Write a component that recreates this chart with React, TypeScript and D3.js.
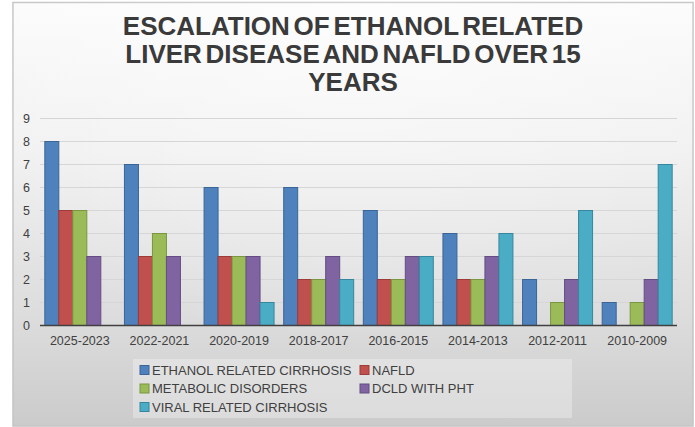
import React from "react";
import * as d3 from "d3";

const categories = ["2025-2023", "2022-2021", "2020-2019", "2018-2017", "2016-2015", "2014-2013", "2012-2011", "2010-2009"];
const seriesNames = ["ETHANOL RELATED CIRRHOSIS", "NAFLD", "METABOLIC DISORDERS", "DCLD WITH PHT", "VIRAL RELATED CIRRHOSIS"];
const ethanol = [8, 7, 6, 6, 5, 4, 2, 1];
const nafld = [5, 3, 3, 2, 2, 2, 0, 0];
const metabolic = [5, 4, 3, 2, 2, 2, 1, 1];
const dcld = [3, 3, 3, 3, 3, 3, 2, 2];
const viral = [0, 0, 1, 2, 3, 4, 5, 7];
const yTicks = [0, 1, 2, 3, 4, 5, 6, 7, 8, 9];
const titleLines = ["ESCALATION OF ETHANOL RELATED", "LIVER DISEASE AND NAFLD OVER 15", "YEARS"];

const fills = ["#4F81BD", "#C0504D", "#9BBB59", "#8064A2", "#4BACC6"];
const strokes = ["#3A6597", "#9C3B39", "#7A9640", "#634D82", "#35879D"];

export default function App() {
  const W = 695, H = 427;
  const left = 40, right = 677, top = 118.5, bottom = 325.5;
  const series = [ethanol, nafld, metabolic, dcld, viral];
  const x = d3.scaleBand<string>().domain(categories).range([left, right]).paddingInner(0.121).paddingOuter(0.0605);
  const x1 = d3.scaleBand<number>().domain(d3.range(series.length)).range([0, x.bandwidth()]);
  const y = d3.scaleLinear().domain([0, 9]).range([bottom, top]);
  const font = "Arial, 'Liberation Sans', sans-serif";
  const textCol = "#404040";

  const legendItems = [
    { i: 0, lx: 140, ly: 370 },
    { i: 1, lx: 360, ly: 370 },
    { i: 2, lx: 140, ly: 388.5 },
    { i: 3, lx: 360, ly: 388.5 },
    { i: 4, lx: 140, ly: 407 },
  ];

  return (
    <svg width={W} height={H} style={{ position: "absolute", left: 0, top: 0 }}>
      <defs>
        <linearGradient id="bg" x1="0" y1="0" x2="0" y2="1">
          <stop offset="0%" stopColor="#fbfbfb" />
          <stop offset="35%" stopColor="#f0f0f0" />
          <stop offset="75%" stopColor="#dcdcdc" />
          <stop offset="100%" stopColor="#cbcbcb" />
        </linearGradient>
        <radialGradient id="hl" cx="0.5" cy="0.1" r="0.7">
          <stop offset="0%" stopColor="#ffffff" stopOpacity="0.5" />
          <stop offset="100%" stopColor="#ffffff" stopOpacity="0" />
        </radialGradient>
      </defs>
      <rect x={13} y={2.5} width={680} height={423.5} fill="url(#bg)" stroke="#c4c4c4" strokeWidth={1.5} />
      <rect x={13} y={2.5} width={680} height={423.5} fill="url(#hl)" />

      {titleLines.map((t, i) => (
        <text key={t} x={353} y={34.5 + i * 28} textAnchor="middle" fontFamily={font} fontWeight="bold" fontSize={26} fill="#3a3a3a" wordSpacing={-3.5}>
          {t}
        </text>
      ))}

      {yTicks.filter((v) => v > 0).map((v) => (
        <line key={"g" + v} x1={left} x2={right} y1={y(v)} y2={y(v)} stroke="#d6d6d6" strokeWidth={1} />
      ))}

      {yTicks.map((v) => (
        <text key={"y" + v} x={30} y={y(v) + 4.5} textAnchor="end" fontFamily={font} fontSize={12.5} fill={textCol}>
          {v}
        </text>
      ))}

      {categories.map((c, ci) => (
        <g key={c}>
          {series.map((s, si) =>
            s[ci] > 0 ? (
              <rect
                key={si}
                x={(x(c) as number) + (x1(si) as number)}
                y={y(s[ci])}
                width={x1.bandwidth()}
                height={bottom - y(s[ci])}
                fill={fills[si]}
                stroke={strokes[si]}
                strokeWidth={1}
              />
            ) : null
          )}
          <text x={(x(c) as number) + x.bandwidth() / 2} y={345} textAnchor="middle" fontFamily={font} fontSize={12.5} fill={textCol}>
            {c}
          </text>
        </g>
      ))}

      <line x1={left} x2={right} y1={bottom} y2={bottom} stroke="#404040" strokeWidth={1.5} />

      <rect x={133} y={359} width={439} height={59} fill="#ffffff" fillOpacity={0.3} />
      {legendItems.map(({ i, lx, ly }) => (
        <g key={i}>
          <rect x={lx} y={ly - 4.5} width={9} height={9} fill={fills[i]} stroke={strokes[i]} strokeWidth={1} />
          <text x={lx + 12} y={ly + 4.5} fontFamily={font} fontSize={13} fill={textCol}>
            {seriesNames[i]}
          </text>
        </g>
      ))}
    </svg>
  );
}
